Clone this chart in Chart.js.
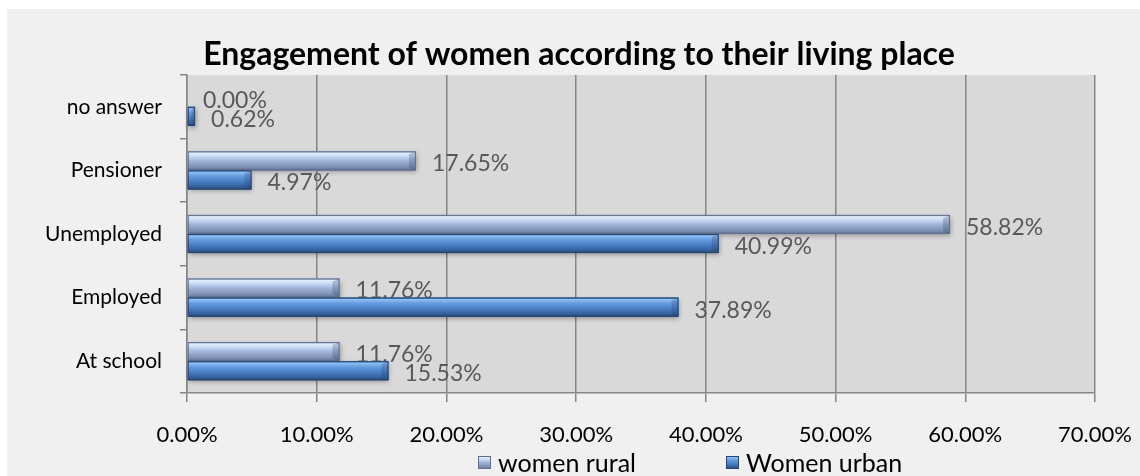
<!DOCTYPE html>
<html>
<head>
<meta charset="utf-8">
<title>Engagement of women according to their living place</title>
<script src="https://cdn.jsdelivr.net/npm/chart.js@4.4.1/dist/chart.umd.min.js"></script>
<style>
  html, body { margin: 0; padding: 0; background: #ffffff; }
  #wrap { width: 1140px; height: 476px; }
</style>
</head>
<body>
<div id="wrap"><canvas id="engagementChart" width="1140" height="476"></canvas></div>
<script>
const categories = ["no answer", "Pensioner", "Unemployed", "Employed", "At school"];
const ruralValues = [0.0, 17.65, 58.82, 11.76, 11.76];
const urbanValues = [0.62, 4.97, 40.99, 37.89, 15.53];
const seriesNames = ["women rural", "Women urban"];
const chartTitle = "Engagement of women according to their living place";

const FONT = "Lato, 'Open Sans', sans-serif";

// vertical gradient stops for the two bar styles (light top edge, darker base)
const barStyles = [
  {
    fill: "#9db1d5",
    stops: [[0, "#8da3c8"], [0.1, "#e2edfc"], [0.28, "#c6d8f3"], [0.5, "#a0b4d8"], [0.85, "#7b8db0"], [1, "#5b6a88"]],
    edge: "#5f6f8f"
  },
  {
    fill: "#4a7fc4",
    stops: [[0, "#3d6dad"], [0.1, "#8ec0f6"], [0.3, "#659ce0"], [0.55, "#4b82c9"], [0.85, "#34609b"], [1, "#25476f"]],
    edge: "#27466f"
  }
];

function makeGradient(ctx, top, bottom, stops) {
  const g = ctx.createLinearGradient(0, top, 0, bottom);
  stops.forEach(([p, c]) => g.addColorStop(p, c));
  return g;
}

// Background panel and grey plot area
const backgroundPlugin = {
  id: "panelBackground",
  beforeDraw(chart) {
    const { ctx, chartArea } = chart;
    ctx.save();
    ctx.fillStyle = "#ffffff";
    ctx.fillRect(0, 0, chart.width, chart.height);
    ctx.fillStyle = "#f0f0f0";
    ctx.fillRect(7, 9, chart.width - 7, chart.height - 9);
    ctx.fillStyle = "#d9d9d9";
    ctx.fillRect(chartArea.left, chartArea.top, chartArea.right - chartArea.left, chartArea.bottom - chartArea.top);
    ctx.restore();
  }
};

// Bevelled bars, value labels, title and legend
const decorPlugin = {
  id: "decor",
  afterDatasetsDraw(chart) {
    const { ctx } = chart;
    chart.data.datasets.forEach((ds, di) => {
      const meta = chart.getDatasetMeta(di);
      const style = barStyles[di];
      meta.data.forEach((bar, i) => {
        const left = bar.base;
        const right = bar.x;
        const top = bar.y - bar.height / 2;
        const bottom = bar.y + bar.height / 2;
        const w = right - left;
        const h = bottom - top;
        if (w > 0.5) {
          ctx.save();
          // soft drop shadow
          ctx.shadowColor = "rgba(0,0,0,0.35)";
          ctx.shadowBlur = 5;
          ctx.shadowOffsetX = 1;
          ctx.shadowOffsetY = 2;
          ctx.fillStyle = makeGradient(ctx, top, bottom, style.stops);
          ctx.fillRect(left, top, w, h);
          ctx.restore();

          ctx.save();
          // chamfered end cap
          const cap = Math.min(7, w / 2);
          ctx.fillStyle = "rgba(40,60,100,0.25)";
          ctx.beginPath();
          ctx.moveTo(right - cap, top + 3);
          ctx.lineTo(right, top);
          ctx.lineTo(right, bottom);
          ctx.lineTo(right - cap, bottom - 3);
          ctx.closePath();
          ctx.fill();
          ctx.strokeStyle = style.edge;
          ctx.lineWidth = 1;
          ctx.strokeRect(left + 0.5, top + 0.5, w - 1, h - 1);
          ctx.restore();
        }

        // value label right of the bar end
        const value = ds.data[i];
        ctx.save();
        ctx.font = "23px " + FONT;
        ctx.fillStyle = "#595959";
        ctx.textAlign = "left";
        ctx.textBaseline = "middle";
        ctx.fillText(value.toFixed(2) + "%", right + 16, bar.y + 3);
        ctx.restore();
      });
    });
  },
  afterDraw(chart) {
    const { ctx } = chart;
    ctx.save();
    ctx.font = "bold 32px " + FONT;
    ctx.fillStyle = "#000000";
    ctx.textAlign = "center";
    ctx.textBaseline = "alphabetic";
    ctx.fillText(chartTitle, 579, 65);

    // legend
    const legendX = [478, 726];
    const legendY = 456;
    ctx.font = "25px " + FONT;
    ctx.textBaseline = "middle";
    ctx.textAlign = "left";
    chart.data.datasets.forEach((ds, di) => {
      const style = barStyles[di];
      const x = legendX[di];
      ctx.fillStyle = makeGradient(ctx, legendY, legendY + 13, style.stops);
      ctx.fillRect(x, legendY, 13, 13);
      ctx.strokeStyle = style.edge;
      ctx.strokeRect(x + 0.5, legendY + 0.5, 12, 12);
      ctx.fillStyle = "#000000";
      ctx.fillText(ds.label, x + 20, legendY + 8);
    });
    ctx.restore();
  }
};

new Chart(document.getElementById("engagementChart"), {
  type: "bar",
  data: {
    labels: categories,
    datasets: [
      {
        label: seriesNames[0],
        data: ruralValues,
        backgroundColor: barStyles[0].fill,
        barPercentage: 1.0,
        categoryPercentage: 0.6
      },
      {
        label: seriesNames[1],
        data: urbanValues,
        backgroundColor: barStyles[1].fill,
        barPercentage: 1.0,
        categoryPercentage: 0.6
      }
    ]
  },
  options: {
    indexAxis: "y",
    responsive: false,
    animation: false,
    devicePixelRatio: 1,
    layout: { padding: { left: 7, right: 45, top: 75, bottom: 0 } },
    plugins: {
      legend: { display: false },
      title: { display: false },
      tooltip: { enabled: false }
    },
    scales: {
      x: {
        min: 0,
        max: 70,
        afterFit(scale) {
          scale.height = 83;
          scale.paddingLeft = 0;
          scale.paddingRight = 0;
        },
        ticks: {
          stepSize: 10,
          color: "#000000",
          font: { family: FONT, size: 22 },
          padding: 20,
          maxRotation: 0,
          callback: (v) => v.toFixed(2) + "%"
        },
        grid: { color: "#868686", lineWidth: 1.5, tickLength: 9 },
        border: { color: "#868686", width: 1.5 }
      },
      y: {
        afterFit(scale) { scale.width = 180; },
        ticks: {
          color: "#000000",
          font: { family: FONT, size: 21 },
          padding: 18
        },
        grid: { drawOnChartArea: false, color: "#868686", lineWidth: 1.5, tickLength: 7 },
        border: { color: "#868686", width: 1.5 }
      }
    }
  },
  plugins: [backgroundPlugin, decorPlugin]
});
</script>
</body>
</html>
